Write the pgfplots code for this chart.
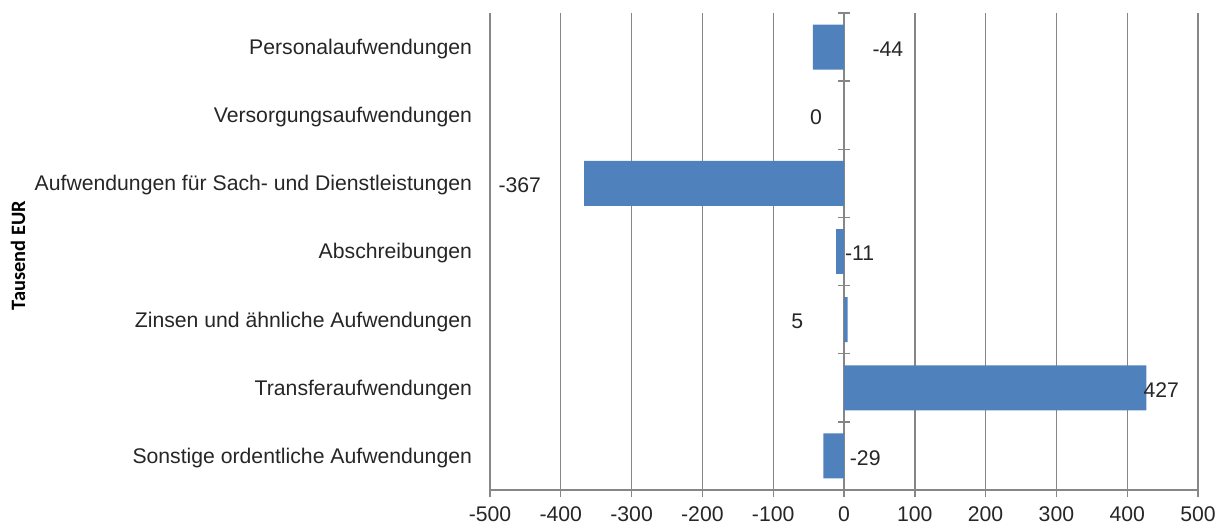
\documentclass[border=0pt]{standalone}
\usepackage{pgfplots}
\usepackage{pgfplotstable}
\pgfplotsset{compat=1.18}
\usepackage{fontspec}
\setmainfont{Liberation Sans}
\newfontfamily\calib{Carlito}
\definecolor{barblue}{RGB}{79,129,189}
\definecolor{gridgray}{RGB}{134,134,134}
\pgfplotstableread{
y val lx
1 -44 62
2 0 -39.5
3 -367 -458
4 -11 22
5 5 -66
6 427 448
7 -29 30
}\data
\begin{document}
\begin{tikzpicture}
\begin{axis}[
  name=ax,
  scale only axis,
  width=354bp, height=238.5bp,
  xmin=-500, xmax=500,
  ymin=0.5, ymax=7.5,
  y dir=reverse,
  axis x line*=bottom,
  axis y line*=left,
  y axis line style={draw=none},
  x axis line style={gridgray, line width=0.7bp},
  xtick={-500,-400,-300,-200,-100,0,100,200,300,400,500},
  xticklabels={-500,-400,-300,-200,-100,0,100,200,300,400,500},
  xtick pos=bottom,
  tick align=outside,
  major tick length=3.5bp,
  x tick style={gridgray, line width=0.7bp},
  y tick style={draw=none},
  xmajorgrids,
  grid style={gridgray, line width=0.7bp},
  ytick={1,2,3,4,5,6,7},
  yticklabels={Personalaufwendungen,Versorgungsaufwendungen,Aufwendungen für Sach- und Dienstleistungen,Abschreibungen,Zinsen und ähnliche Aufwendungen,Transferaufwendungen,Sonstige ordentliche Aufwendungen},
  ticklabel style={font=\fontsize{10.6bp}{12bp}\selectfont, text=black!85},
  yticklabel style={anchor=east, xshift=-2bp, yshift=-1bp},
  xticklabel style={yshift=-1.5bp},
  clip=false,
]
\addplot[xbar, bar width=0.66, fill=barblue, draw=none] table[x=val, y=y]{\data};
\addplot[draw=none, mark=none, nodes near coords, point meta=explicit symbolic,
  every node near coord/.style={anchor=center, font=\fontsize{10.6bp}{12bp}\selectfont, text=black!85, yshift=-1bp}]
  table[x=lx, y=y, meta=val]{\data};
\pgfplotsinvokeforeach{0.5,1.5,2.5,3.5,4.5,5.5,6.5}{
  \draw[gridgray, line width=0.7bp] ([xshift=-3bp]axis cs:0,#1) -- ([xshift=3bp]axis cs:0,#1);
}
\end{axis}
\node[rotate=90, font=\calib\bfseries\fontsize{10.2bp}{11bp}\selectfont, anchor=center]
  at ([xshift=-236bp, yshift=-2bp]ax.west) {Tausend EUR};
\pgfresetboundingbox
\path[use as bounding box] ([xshift=-245bp, yshift=-17bp]ax.south west) rectangle ([xshift=13bp, yshift=6.5bp]ax.north east);
\end{tikzpicture}
\end{document}
